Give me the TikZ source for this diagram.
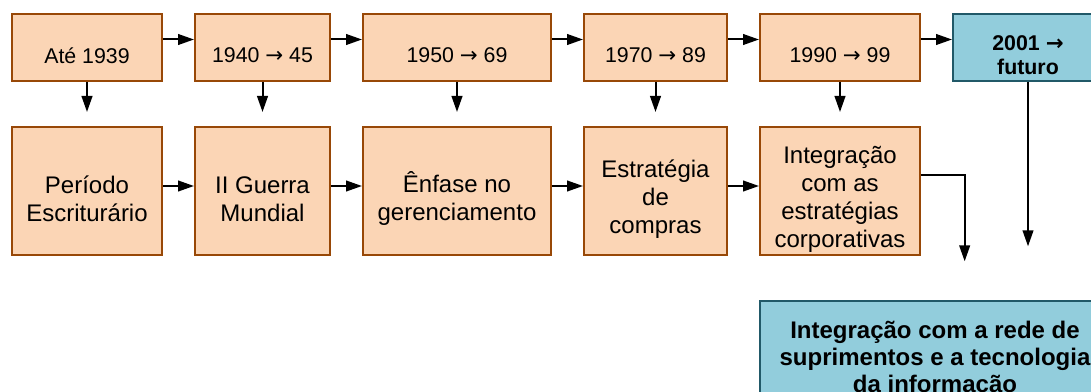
\documentclass[tikz,border=0pt]{standalone}
\usepackage{fontspec}
\setmainfont{Liberation Sans}
\newfontfamily\arrowfont{DejaVu Sans}
\usetikzlibrary{calc,chains,arrows.meta,positioning}
\definecolor{erafill}{HTML}{FBD5B5}
\definecolor{eraline}{HTML}{984807}
\definecolor{futfill}{HTML}{92CDDC}
\definecolor{futline}{HTML}{215968}
\tikzset{year/.style={draw=eraline, fill=erafill, line width=1.5pt, minimum height=50.25pt, inner sep=0pt, on chain},
  phase/.style={draw=eraline, fill=erafill, line width=1.5pt, minimum height=96pt, inner sep=0pt},
  goal/.style={draw=futline, fill=futfill, line width=1.5pt, minimum width=262.5pt, minimum height=87pt, align=center, font=\bfseries\fontsize{18}{20.25}\selectfont},
  ytext/.style={label={[yshift=-6pt, font=\fontsize{16}{19}\selectfont]center:{#1}}},
  ptext/.style={label={[yshift=-6pt, align=center, font=\fontsize{18}{21}\selectfont]center:{#1}}},
  ftext/.style={label={[yshift=-6pt, align=center, font=\bfseries\fontsize{16}{18}\selectfont]center:{#1}}},
  arr/.style={-{Triangle[length=12pt,width=8pt]}, line width=1.5pt},
  start chain=going right, node distance=23.25pt}

\begin{document}
\begin{tikzpicture}
    \useasboundingbox (0,0) rectangle (818.25pt,-294pt);
    % periods
    \node[year, minimum width=112.5pt, anchor=north west, ytext={Até 1939}] (T1) at (8.25pt,-9.75pt) {};
    \node[year, minimum width=101.25pt, ytext={1940 {\arrowfont →} 45}] (T2) {};
    \node[year, minimum width=141pt, ytext={1950 {\arrowfont →} 69}] (T3) {};
    \node[year, minimum width=107.25pt, ytext={1970 {\arrowfont →} 89}] (T4) {};
    \node[year, minimum width=120pt, ytext={1990 {\arrowfont →} 99}] (T5) {};
    \node[year, minimum width=112.5pt, draw=futline, fill=futfill, ftext={2001 {\arrowfont\bfseries →}\\futuro}] (FUT) {};
    % phases
    \node[phase, minimum width=112.5pt, below=33pt of T1, ptext={Período\\Escriturário}] (B1) {};
    \node[phase, minimum width=101.25pt, below=33pt of T2, ptext={II Guerra\\Mundial}] (B2) {};
    \node[phase, minimum width=141pt, below=33pt of T3, ptext={Ênfase no\\gerenciamento}] (B3) {};
    \node[phase, minimum width=107.25pt, below=33pt of T4, ptext={Estratégia\\de\\compras}] (B4) {};
    \node[phase, minimum width=120pt, below=33pt of T5, ptext={Integração\\com as\\estratégias\\corporativas}] (B5) {};
    \node[goal, below=33pt of B5.south west, anchor=north west] (INT) {Integração com a rede de\\suprimentos e a tecnologia\\da informação};
    % arrows
    \foreach \a/\b in {T1/T2,T2/T3,T3/T4,T4/T5,T5/FUT}
        \draw[arr] ([yshift=6pt]\a.east) -- ([yshift=6pt]\b.west);
    \foreach \a/\b in {B1/B2,B2/B3,B3/B4,B4/B5}
        \draw[arr] ([yshift=3.75pt]\a.east) -- ([yshift=3.75pt]\b.west);
    \foreach \n in {1,...,5}
        \draw[arr, shorten >=10.5pt] (T\n) -- (B\n);
    \draw[arr, shorten >=40.25pt] (FUT.south) -- (FUT.south |- INT.north);
    \draw[arr] ([yshift=12pt]B5.east) -| ($(B5.east |- INT.north)+(32.75pt,29pt)$);
\end{tikzpicture}
\end{document}
